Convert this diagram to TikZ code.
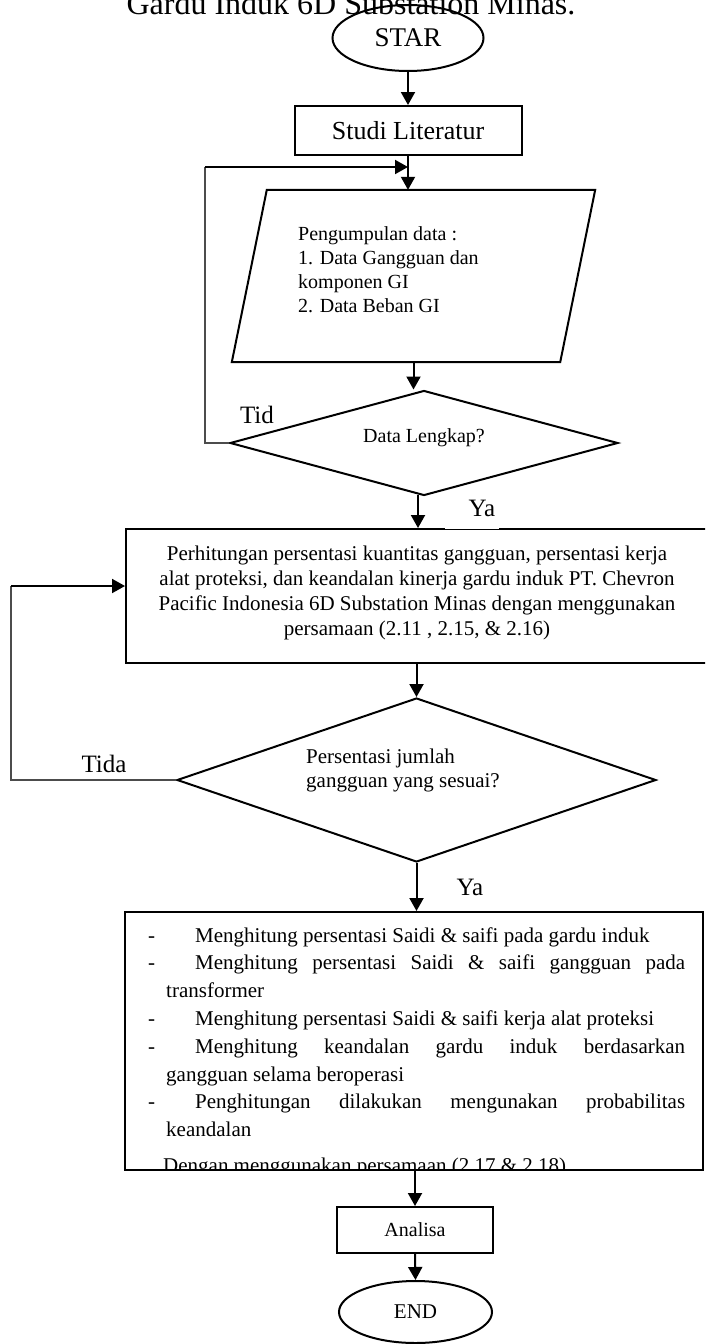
\documentclass[tikz,border=0pt]{standalone}
\usepackage{fontspec}
\setmainfont{Liberation Serif}
\usetikzlibrary{shapes.geometric,arrows.meta,calc}
\begin{document}
\begin{tikzpicture}[x=1pt,y=-1pt,
  box/.style={draw, line width=2pt, inner sep=0pt},
  arr/.style={line width=2pt, -{Triangle[length=13pt,width=14pt]}},
  loopl/.style={line width=1.1pt, draw=black!70},
  lbl/.style={inner sep=0pt, font=\fontsize{25}{30}\selectfont, anchor=base},
  txt/.style={inner sep=0pt},
]
\useasboundingbox (0,0) rectangle (705,1344);
\clip (0,0) rectangle (705,1344);

% title (cut at the top)
\node[txt, anchor=base, font=\fontsize{32}{38}\selectfont] (title) at (351,14) {Gardu Induk 6D Substation Minas.};

% start
\node[ellipse, draw, line width=2pt, minimum width=151pt, minimum height=66pt, inner sep=0pt, font=\fontsize{27}{32}\selectfont] (star) at (408,38) {STAR};

% studi literatur
\node[box, minimum width=227pt, minimum height=49pt, font=\fontsize{26}{31}\selectfont] (studi) at (408,130.5) {Studi Literatur};

% parallelogram
\node[minimum width=363pt, minimum height=172pt, inner sep=0pt] (par) at (413.5,276) {};
\draw[line width=2pt] ([xshift=35pt]par.north west) -- (par.north east) -- ([xshift=-35pt]par.south east) -- (par.south west) -- cycle;
\node[txt, anchor=base west, font=\fontsize{20}{24}\selectfont] (partext) at (298,240)
  {\parbox[t]{260pt}{\raggedright Pengumpulan data :\\1. Data Gangguan dan\\komponen GI\\2. Data Beban GI}};

% decision 1
\node[diamond, draw, line width=2pt, minimum width=388pt, minimum height=105pt, inner sep=0pt] (d1) at (424,443) {};
\node[txt, anchor=base, font=\fontsize{20}{24}\selectfont] (d1text) at (424,442) {Data Lengkap?};
\node[lbl] (tid) at (257,423) {Tid};

% box 2
\node[box, minimum width=584pt, minimum height=134pt] (box2) at (418,596) {};
\node[txt, anchor=base, font=\fontsize{21}{25}\selectfont] (box2text) at (417,560)
  {\parbox[t]{560pt}{\centering Perhitungan persentasi kuantitas gangguan, persentasi kerja\\alat proteksi, dan keandalan kinerja gardu induk PT. Chevron\\Pacific Indonesia 6D Substation Minas dengan menggunakan\\persamaan (2.11 , 2.15, \& 2.16)}};
\fill[white] (445,500) rectangle (499,528.6);
\node[lbl] (ya1) at (482,516) {Ya};

% decision 2
\node[diamond, draw, line width=2pt, minimum width=479pt, minimum height=164pt, inner sep=0pt] (d2) at (416.5,780) {};
\node[txt, anchor=base west, font=\fontsize{21}{24}\selectfont] (d2text) at (306,763)
  {\parbox[t]{220pt}{\raggedright Persentasi jumlah\\gangguan yang sesuai?}};
\node[lbl] (tida) at (104,772) {Tida};
\node[lbl] (ya2) at (470,895) {Ya};

% box 3
\node[box, minimum width=578pt, minimum height=258pt] (box3) at (414,1041) {};
\begin{scope}
\clip (125,912) rectangle (703,1170);
\node[txt, anchor=base west, font=\fontsize{21}{27.8}\selectfont] (box3text) at (148,942)
  {\parbox[t]{537pt}{%
  \makebox[47pt][l]{-}Menghitung persentasi Saidi \& saifi pada gardu induk\\
  \makebox[47pt][l]{-}\makebox[490pt][s]{Menghitung persentasi Saidi \& saifi gangguan pada}\\
  \hspace*{18pt}transformer\\
  \makebox[47pt][l]{-}Menghitung persentasi Saidi \& saifi kerja alat proteksi\\
  \makebox[47pt][l]{-}\makebox[490pt][s]{Menghitung keandalan gardu induk berdasarkan}\\
  \hspace*{18pt}gangguan selama beroperasi\\
  \makebox[47pt][l]{-}\makebox[490pt][s]{Penghitungan dilakukan mengunakan probabilitas}\\
  \hspace*{18pt}keandalan\\[8pt]
  \hspace*{15pt}Dengan menggunakan persamaan (2.17 \& 2.18)}};
\end{scope}

% analisa and end
\node[box, minimum width=156pt, minimum height=46pt, font=\fontsize{20}{24}\selectfont] (analisa) at (415,1230) {Analisa};
\node[ellipse, draw, line width=2pt, minimum width=153pt, minimum height=62pt, inner sep=0pt, font=\fontsize{21}{25}\selectfont] (end) at (415.5,1312) {END};

% connectors
\draw[arr] (star.south) -- (studi.north);
\draw[arr] (studi.south) -- (studi.south |- par.north);
\draw[arr] (par.south) -- (par.south |- d1.north);
\draw[arr] ($(d1.south -| box2.north)+(0,-2)$) -- (box2.north);
\draw[arr] (box2.south -| d2.north) -- (d2.north);
\draw[arr] (d2.south) -- (d2.south |- box3.north);
\draw[arr] (box3.south -| analisa.north) -- (analisa.north);
\draw[arr] (analisa.south) -- (end.north);

% loop 1
\coordinate (l1a) at (205,443);
\coordinate (l1b) at (205,167);
\draw[loopl] (d1.west) -- (l1a) -- (l1b);
\draw[arr] (l1b) -- (l1b -| studi.south);

% loop 2
\coordinate (l2a) at (11,780);
\coordinate (l2b) at (11,586);
\draw[loopl] (d2.west) -- (l2a) -- (l2b);
\draw[arr] (l2b) -- (l2b -| box2.west);
\end{tikzpicture}
\end{document}
